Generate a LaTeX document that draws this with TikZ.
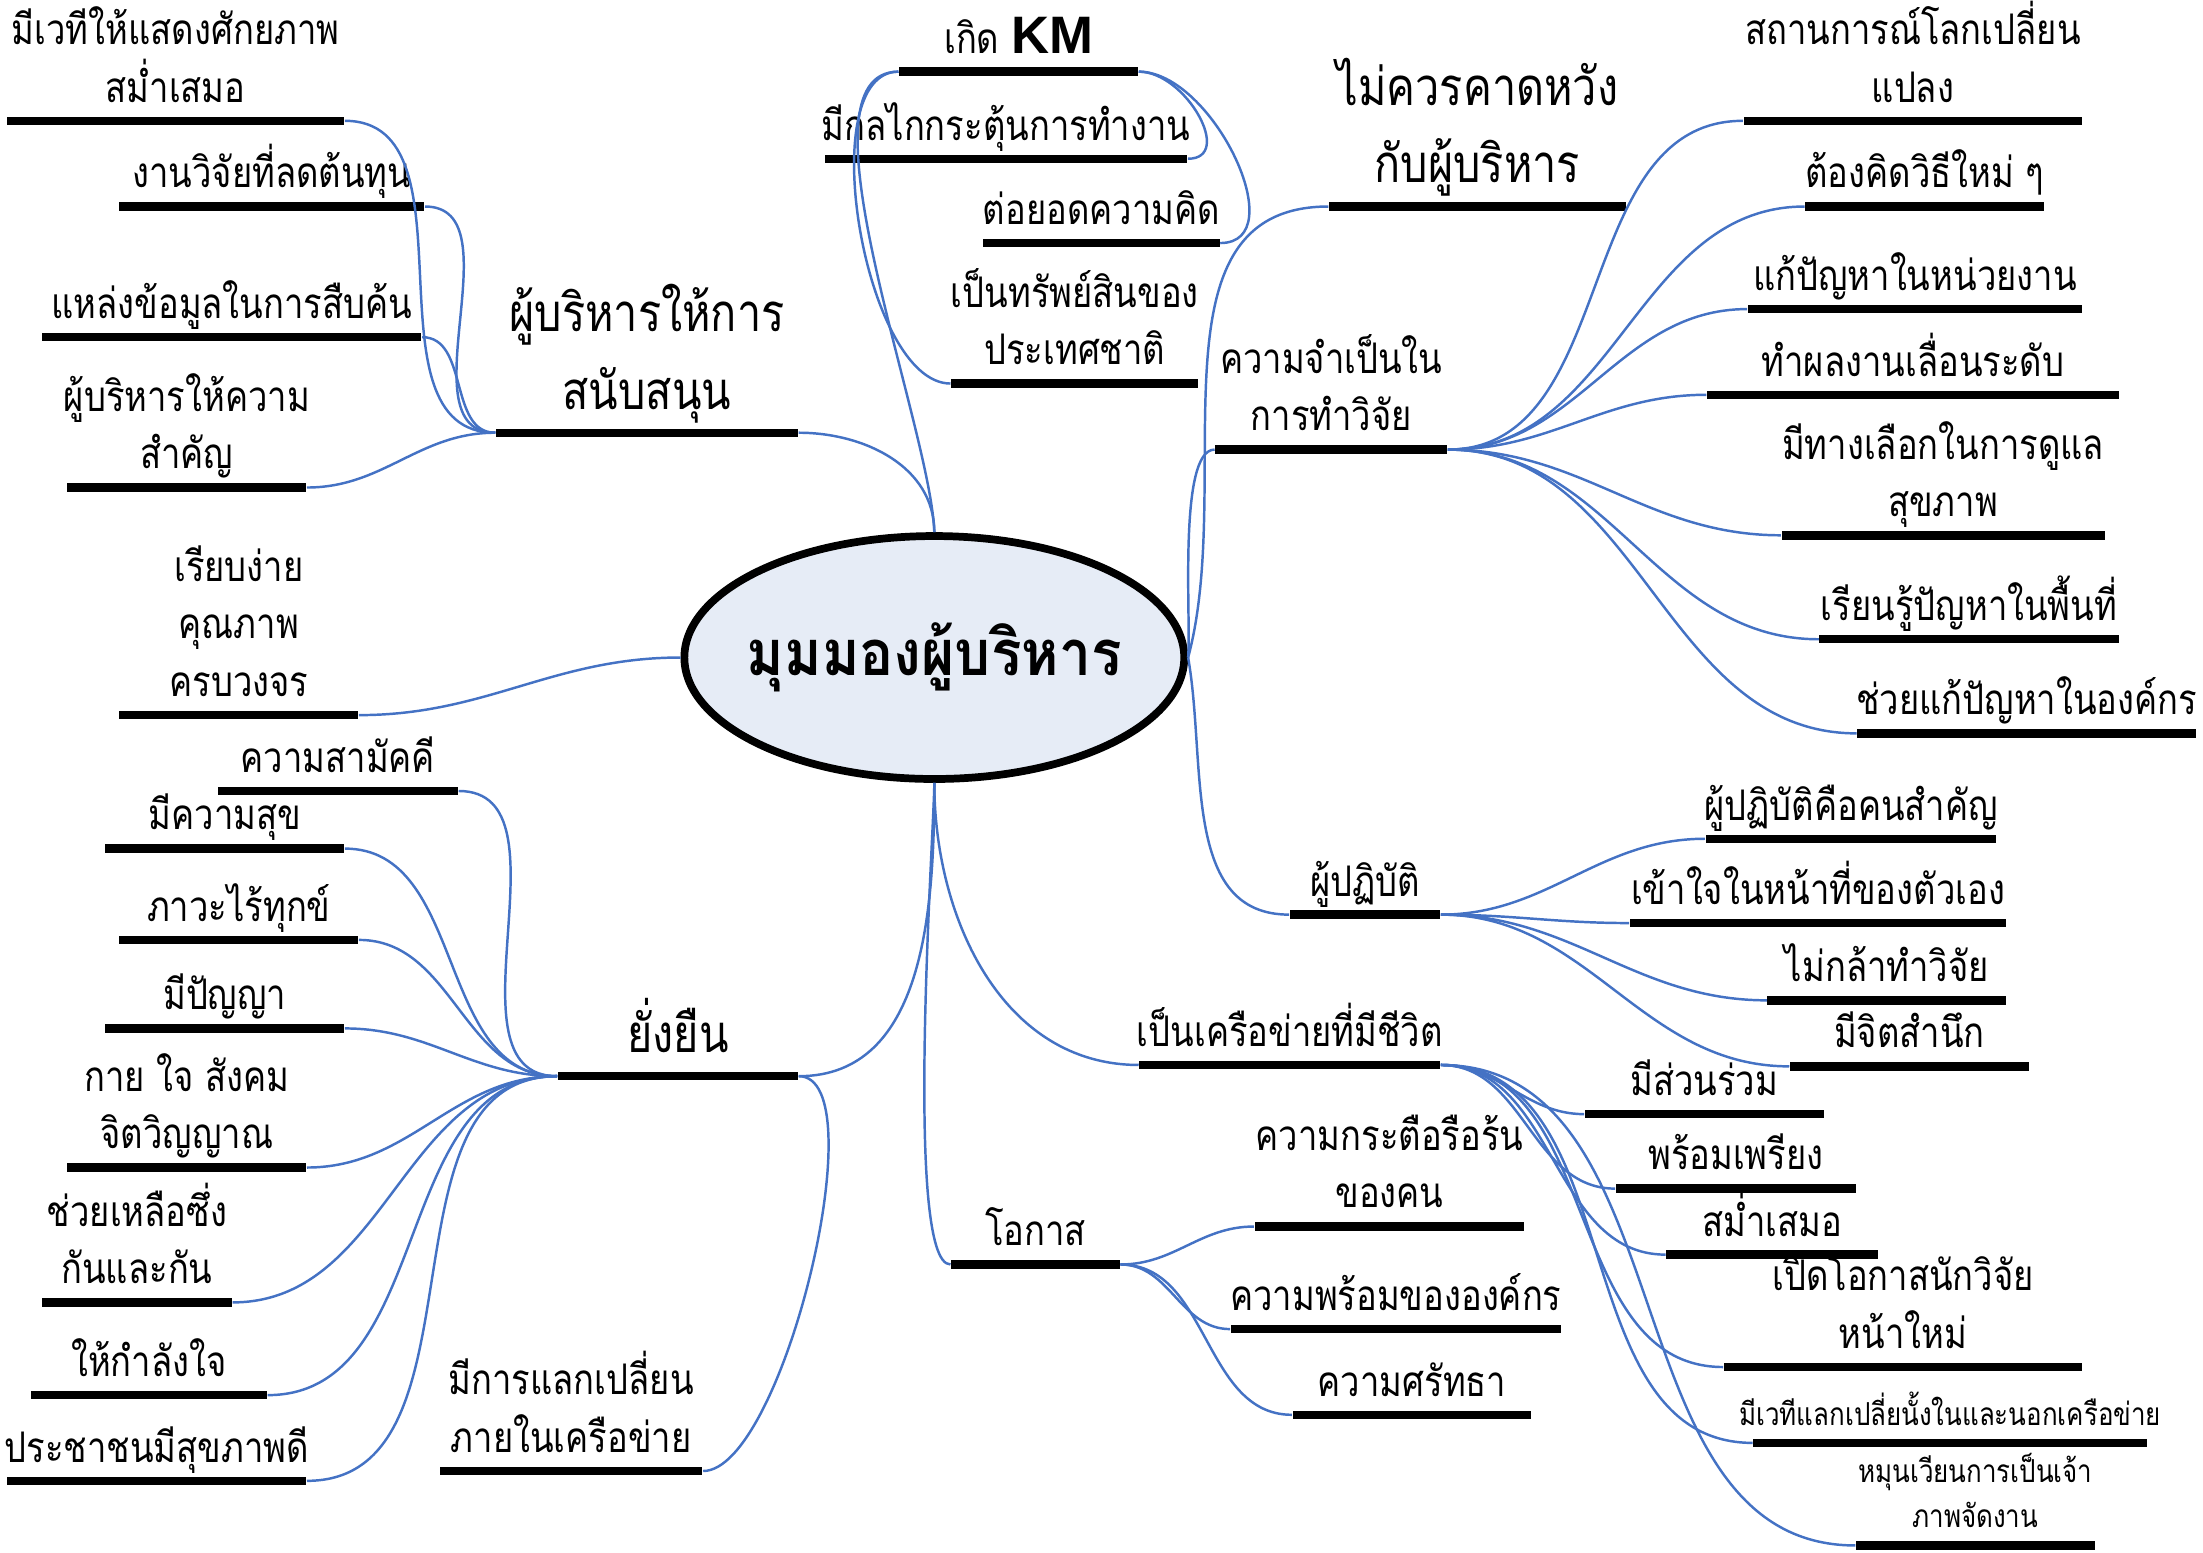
\documentclass[tikz,border=0pt]{standalone}
\usepackage{fontspec}
\usepackage{tikz}
\usetikzlibrary{positioning,shapes.geometric}
\newfontfamily\thai[Script=Thai,FakeStretch=0.82]{Loma}
\newfontfamily\thaicore[Script=Thai,FakeStretch=0.9]{Loma}
\newfontfamily\latin{Liberation Sans}
\definecolor{linkblue}{RGB}{68,114,196}
\definecolor{corefill}{RGB}{230,236,246}

\begin{document}
\begin{tikzpicture}[x=0.01405cm, y=-0.01405cm,
    ubar/.style={fill=black, inner sep=0pt, minimum height=2.4pt, minimum width={#1*0.01405cm}},
    lbl/.style={font=\thai\fontsize{12pt}{16.4pt}\selectfont, align=center, inner sep=0pt, text depth=0pt},
    head/.style={font=\thai\fontsize{15pt}{22pt}\selectfont, align=center, inner sep=0pt, text depth=0pt},
    note/.style={font=\thai\fontsize{9pt}{12.8pt}\selectfont, align=center, inner sep=0pt, text depth=0pt},
    link/.style={draw=linkblue, line width=0.7pt}]
    \useasboundingbox (0,0) rectangle (1568,1105);

    % Centre topic
    \node[ellipse, draw=black, line width=2.2pt, fill=corefill, inner sep=0pt, minimum width=5cm, minimum height=2.43cm,
          font=\thaicore\bfseries\fontsize{18pt}{20pt}\selectfont] (core) at (665,468) {\makebox[2cm]{มุมมองผู้บริหาร}};

    % Top left: support from executives
    \node[ubar=215] (bsupp) at (460.5,308) {};
    \node[head, above=0.18cm of bsupp] (tsupp) {ผู้บริหารให้การ\\สนับสนุน};
    \node[ubar=240] (bstage) at (125,86) {};
    \node[lbl, above=0.13cm of bstage] (tstage) {มีเวทีให้แสดงศักยภาพ\\สม่ำเสมอ};
    \node[ubar=217] (bcost) at (193.5,147) {};
    \node[lbl, above=0.13cm of bcost] (tcost) {งานวิจัยที่ลดต้นทุน};
    \node[ubar=270] (bsource) at (165,240) {};
    \node[lbl, above=0.13cm of bsource] (tsource) {แหล่งข้อมูลในการสืบค้น};
    \node[ubar=170] (bvalue) at (133,347) {};
    \node[lbl, above=0.13cm of bvalue] (tvalue) {ผู้บริหารให้ความ\\สำคัญ};

    % Left: simple
    \node[ubar=170] (bsimple) at (170,509) {};
    \node[lbl, above=0.13cm of bsimple] (tsimple) {เรียบง่าย\\คุณภาพ\\ครบวงจร};

    % Bottom left: sustainable
    \node[ubar=171] (bsustain) at (482.5,766) {};
    \node[head, above=0.18cm of bsustain] (tsustain) {ยั่งยืน};
    \node[ubar=171] (bunity) at (240.5,563) {};
    \node[lbl, above=0.13cm of bunity] (tunity) {ความสามัคคี};
    \node[ubar=170] (bhappy) at (160,604) {};
    \node[lbl, above=0.13cm of bhappy] (thappy) {มีความสุข};
    \node[ubar=170] (bcalm) at (170,669) {};
    \node[lbl, above=0.13cm of bcalm] (tcalm) {ภาวะไร้ทุกข์};
    \node[ubar=170] (bwisdom) at (160,732) {};
    \node[lbl, above=0.13cm of bwisdom] (twisdom) {มีปัญญา};
    \node[ubar=170] (bbody) at (133,831) {};
    \node[lbl, above=0.13cm of bbody] (tbody) {กาย ใจ สังคม\\จิตวิญญาณ};
    \node[ubar=135] (bhelp) at (97.5,927) {};
    \node[lbl, above=0.13cm of bhelp] (thelp) {ช่วยเหลือซึ่ง\\กันและกัน};
    \node[ubar=168] (bcheer) at (106,993) {};
    \node[lbl, above=0.13cm of bcheer] (tcheer) {ให้กำลังใจ};
    \node[ubar=213] (bhealth) at (111.5,1054) {};
    \node[lbl, above=0.13cm of bhealth] (thealth) {ประชาชนมีสุขภาพดี};
    \node[ubar=187] (bshare) at (406.5,1047) {};
    \node[lbl, above=0.13cm of bshare] (tshare) {มีการแลกเปลี่ยน\\ภายในเครือข่าย};

    % Top: KM
    \node[ubar=170] (bkm) at (725,51) {};
    \node[lbl, above=0.13cm of bkm] (tkm) {เกิด {\latin\bfseries\fontsize{15pt}{16pt}\selectfont KM}};
    \node[ubar=258] (bdrive) at (716,113) {};
    \node[lbl, above=0.13cm of bdrive] (tdrive) {มีกลไกกระตุ้นการทำงาน};
    \node[ubar=168] (bextend) at (784,173) {};
    \node[lbl, above=0.13cm of bextend] (textend) {ต่อยอดความคิด};
    \node[ubar=176] (basset) at (765,273) {};
    \node[lbl, above=0.13cm of basset] (tasset) {เป็นทรัพย์สินของ\\ประเทศชาติ};

    % Top right: expectations and need for research
    \node[ubar=211] (bexpect) at (1051.5,147) {};
    \node[head, above=0.18cm of bexpect] (texpect) {ไม่ควรคาดหวัง\\กับผู้บริหาร};
    \node[ubar=165] (bneed) at (947.5,320) {};
    \node[lbl, above=0.13cm of bneed] (tneed) {ความจำเป็นใน\\การทำวิจัย};
    \node[ubar=241] (bworld) at (1361.5,86) {};
    \node[lbl, above=0.13cm of bworld] (tworld) {สถานการณ์โลกเปลี่ยน\\แปลง};
    \node[ubar=170] (bnewway) at (1370,147) {};
    \node[lbl, above=0.13cm of bnewway] (tnewway) {ต้องคิดวิธีใหม่ ๆ};
    \node[ubar=238] (bunit) at (1363,220) {};
    \node[lbl, above=0.13cm of bunit] (tunit) {แก้ปัญหาในหน่วยงาน};
    \node[ubar=293] (bpromo) at (1361.5,281) {};
    \node[lbl, above=0.13cm of bpromo] (tpromo) {ทำผลงานเลื่อนระดับ};
    \node[ubar=230] (bcare) at (1383,381) {};
    \node[lbl, above=0.13cm of bcare] (tcare) {มีทางเลือกในการดูแล\\สุขภาพ};
    \node[ubar=213] (barea) at (1401.5,455) {};
    \node[lbl, above=0.13cm of barea] (tarea) {เรียนรู้ปัญหาในพื้นที่};
    \node[ubar=241] (borg) at (1442.5,522) {};
    \node[lbl, above=0.13cm of borg] (torg) {ช่วยแก้ปัญหาในองค์กร};

    % Right: practitioners
    \node[ubar=107] (bstaff) at (971.5,651) {};
    \node[lbl, above=0.13cm of bstaff] (tstaff) {ผู้ปฏิบัติ};
    \node[ubar=207] (bkey) at (1317.5,597) {};
    \node[lbl, above=0.13cm of bkey] (tkey) {ผู้ปฏิบัติคือคนสำคัญ};
    \node[ubar=268] (bduty) at (1294,657) {};
    \node[lbl, above=0.13cm of bduty] (tduty) {เข้าใจในหน้าที่ของตัวเอง};
    \node[ubar=170] (bafraid) at (1343,712) {};
    \node[lbl, above=0.13cm of bafraid] (tafraid) {ไม่กล้าทำวิจัย};
    \node[ubar=170] (baware) at (1359,759) {};
    \node[lbl, above=0.13cm of baware] (taware) {มีจิตสำนึก};

    % Bottom right: living network
    \node[ubar=214] (bnet) at (918,758) {};
    \node[lbl, above=0.13cm of bnet] (tnet) {เป็นเครือข่ายที่มีชีวิต};
    \node[ubar=170] (bjoin) at (1213,793) {};
    \node[lbl, above=0.13cm of bjoin] (tjoin) {มีส่วนร่วม};
    \node[ubar=171] (bready) at (1235.5,846) {};
    \node[lbl, above=0.13cm of bready] (tready) {พร้อมเพรียง};
    \node[ubar=151] (bsteady) at (1261.5,893) {};
    \node[lbl, above=0.13cm of bsteady] (tsteady) {สม่ำเสมอ};
    \node[ubar=255] (bnewres) at (1354.5,973) {};
    \node[lbl, above=0.13cm of bnewres] (tnewres) {เปิดโอกาสนักวิจัย\\หน้าใหม่};
    \node[ubar=280] (bforum) at (1388,1027) {};
    \node[note, above=0.12cm of bforum] (tforum) {มีเวทีแลกเปลี่ยนั้งในและนอกเครือข่าย};
    \node[ubar=170] (bhost) at (1406,1100) {};
    \node[note, above=0.12cm of bhost] (thost) {หมุนเวียนการเป็นเจ้า\\ภาพจัดงาน};

    % Bottom: opportunity
    \node[ubar=120] (bchance) at (737,900) {};
    \node[lbl, above=0.13cm of bchance] (tchance) {โอกาส};
    \node[ubar=192] (beager) at (989,873) {};
    \node[lbl, above=0.13cm of beager] (teager) {ความกระตือรือร้น\\ของคน};
    \node[ubar=235] (borgready) at (993.5,946) {};
    \node[lbl, above=0.13cm of borgready] (torgready) {ความพร้อมขององค์กร};
    \node[ubar=170] (bfaith) at (1005,1007) {};
    \node[lbl, above=0.13cm of bfaith] (tfaith) {ความศรัทธา};

    % Connectors from the centre
    \draw[link] (core.north) to[out=90,in=0] (bsupp.east);
    \draw[link] (core.north) to[out=92,in=180,looseness=0.6] (bkm.west);
    \draw[link] (core.west) to[out=180,in=0] (bsimple.east);
    \draw[link] (core.south) to[out=270,in=0] (bsustain.east);
    \draw[link] (core.south) to[out=270,in=180] (bnet.west);
    \draw[link] (core.south) to[out=270,in=180,looseness=0.25] (bchance.west);
    \draw[link] (core.east) to[out=75,in=180] (bexpect.west);
    \draw[link] (core.east) to[out=85,in=180,looseness=0.45] (bneed.west);
    \draw[link] (core.east) to[out=-80,in=180] (bstaff.west);

    % Connectors of the branches
    \foreach \n in {bstage,bcost,bsource,bvalue}
        \draw[link] (\n.east) to[out=0,in=180] (bsupp.west);
    \foreach \n in {bunity,bhappy,bcalm,bwisdom,bbody,bhelp,bcheer,bhealth}
        \draw[link] (\n.east) to[out=0,in=180] (bsustain.west);
    \draw[link] (bsustain.east) to[out=0,in=0,looseness=0.5] (bshare.east);
    \draw[link] (bkm.west) to[out=180,in=180,looseness=0.7] (basset.west);
    \draw[link] (bkm.east) to[out=0,in=0,looseness=1.2] (bdrive.east);
    \draw[link] (bkm.east) to[out=0,in=0] (bextend.east);
    \foreach \n in {bworld,bnewway,bunit,bpromo,bcare,barea,borg}
        \draw[link] (bneed.east) to[out=0,in=180] (\n.west);
    \foreach \n in {bkey,bduty,bafraid,baware}
        \draw[link] (bstaff.east) to[out=0,in=180] (\n.west);
    \foreach \n in {bjoin,bready,bsteady,bnewres,bforum,bhost}
        \draw[link] (bnet.east) to[out=0,in=180] (\n.west);
    \foreach \n in {beager,borgready,bfaith}
        \draw[link] (bchance.east) to[out=0,in=180] (\n.west);
\end{tikzpicture}
\end{document}
